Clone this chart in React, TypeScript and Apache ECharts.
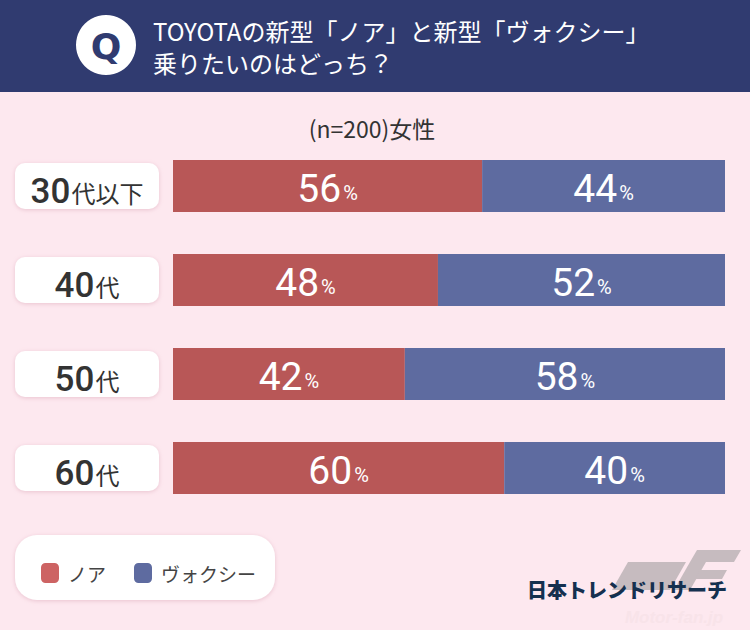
import React, { useEffect, useRef } from "react";
import * as echarts from "echarts";

const categories = ["30代以下", "40代", "50代", "60代"];
const seriesNames = ["ノア", "ヴォクシー"];
const noahValues = [56, 48, 42, 60];
const voxyValues = [44, 52, 58, 40];
const titleLines = ["TOYOTAの新型「ノア」と新型「ヴォクシー」", "乗りたいのはどっち？"];
const subtitle = "(n=200)女性";

const NAVY = "#303b70";
const RED = "#b85757";
const BLUE = "#5e6ba0";
const RED_LEGEND = "#cd6363";
const BG = "#fde8ef";
const JP = "'Noto Sans CJK JP', 'Noto Sans', sans-serif";
const NUM = "Roboto, 'Liberation Sans', sans-serif";

export default function App() {
  const ref = useRef<HTMLDivElement>(null);
  useEffect(() => {
    if (!ref.current) return;
    const chart = echarts.init(ref.current, undefined, { renderer: "svg" });
    const barLabel = {
      show: true,
      position: "inside",
      formatter: "{a|{c}}{b|%}",
      rich: {
        a: { fontSize: 39, fontFamily: NUM, color: "#fff", lineHeight: 44, verticalAlign: "bottom" },
        b: { fontSize: 20, fontFamily: NUM, color: "#fff", lineHeight: 22, verticalAlign: "bottom", padding: [0, 0, 5, 2] },
      },
    };
    chart.setOption({
      animation: false,
      backgroundColor: BG,
      grid: { left: 173, right: 25, top: 139, bottom: 115 },
      xAxis: { type: "value", min: 0, max: 100, show: false },
      yAxis: {
        type: "category",
        inverse: true,
        data: categories,
        axisLine: { show: false },
        axisTick: { show: false },
        splitLine: { show: false },
        axisLabel: {
          margin: 86,
          align: "center",
          verticalAlign: "middle",
          width: 144,
          height: 46,
          backgroundColor: "#fff",
          borderRadius: 10,
          shadowColor: "rgba(210,150,170,0.45)",
          shadowBlur: 4,
          shadowOffsetY: 1,
          formatter: (v: string) => {
            const m = v.match(/^(\d+)(.*)$/);
            return m ? `{n|${m[1]}}{k|${m[2]}}` : v;
          },
          rich: {
            n: { fontSize: 35, fontFamily: NUM, fontWeight: 500, color: "#333", lineHeight: 46, verticalAlign: "bottom" },
            k: { fontSize: 24, fontFamily: JP, color: "#333", lineHeight: 30, verticalAlign: "bottom", padding: [0, 0, 5, 1] },
          },
        },
      },
      legend: {
        data: [
          { name: seriesNames[0], itemStyle: { color: RED_LEGEND } },
          { name: seriesNames[1], itemStyle: { color: BLUE } },
        ],
        left: 36,
        top: 558,
        icon: "roundRect",
        itemWidth: 18,
        itemHeight: 20,
        itemGap: 28,
        textStyle: { fontSize: 19, color: "#444", fontFamily: JP, padding: [0, 0, 0, 4] },
        selectedMode: false,
      },
      series: [
        { name: seriesNames[0], type: "bar", stack: "total", barWidth: 52, data: noahValues, itemStyle: { color: RED }, label: barLabel },
        { name: seriesNames[1], type: "bar", stack: "total", barWidth: 52, data: voxyValues, itemStyle: { color: BLUE }, label: barLabel },
      ],
      graphic: [
        { type: "rect", z: -1, shape: { x: 0, y: 0, width: 750, height: 92 }, style: { fill: NAVY } },
        { type: "circle", shape: { cx: 106, cy: 45, r: 30 }, style: { fill: "#fff" } },
        { type: "text", x: 106, y: 46, style: { text: "Q", fill: NAVY, fontSize: 36, fontWeight: "bold", fontFamily: "'DejaVu Sans', sans-serif", align: "center", verticalAlign: "middle" } },
        { type: "text", x: 153, y: 30, style: { text: titleLines[0], fill: "#fff", fontSize: 24, fontFamily: JP, verticalAlign: "middle" } },
        { type: "text", x: 153, y: 62, style: { text: titleLines[1], fill: "#fff", fontSize: 24, fontFamily: JP, verticalAlign: "middle" } },
        { type: "text", x: 372, y: 128, style: { text: subtitle, fill: "#333", fontSize: 23, fontFamily: JP, align: "center", verticalAlign: "middle" } },
        { type: "rect", z: -1, shape: { x: 15, y: 535, width: 260, height: 65, r: 22 }, style: { fill: "#fff", shadowColor: "rgba(210,150,170,0.45)", shadowBlur: 4, shadowOffsetY: 1 } },
        { type: "polygon", shape: { points: [[612, 590], [628, 562], [686, 562], [670, 590]] }, style: { fill: "#c6bbbf" } },
        { type: "polygon", shape: { points: [[697, 550], [741, 550], [734, 562], [690, 562]] }, style: { fill: "#c6bbbf" } },
        { type: "polygon", shape: { points: [[690, 562], [706, 562], [690, 590], [674, 590]] }, style: { fill: "#c6bbbf" } },
        { type: "polygon", shape: { points: [[700, 570], [727, 570], [722, 579], [695, 579]] }, style: { fill: "#c6bbbf" } },
        { type: "text", x: 627, y: 589, style: { text: "日本トレンドリサーチ", fill: "#15304f", fontSize: 20, fontWeight: 900, fontFamily: JP, align: "center", verticalAlign: "middle" } },
        { type: "text", x: 674, y: 617, style: { text: "Motor-fan.jp", fill: "#f8e3e9", fontSize: 17, fontStyle: "italic", fontWeight: "bold", fontFamily: "'Liberation Sans', sans-serif", align: "center", verticalAlign: "middle" } },
      ],
    });
    return () => chart.dispose();
  }, []);
  return <div ref={ref} style={{ position: "fixed", left: 0, top: 0, width: 750, height: 630 }} />;
}
